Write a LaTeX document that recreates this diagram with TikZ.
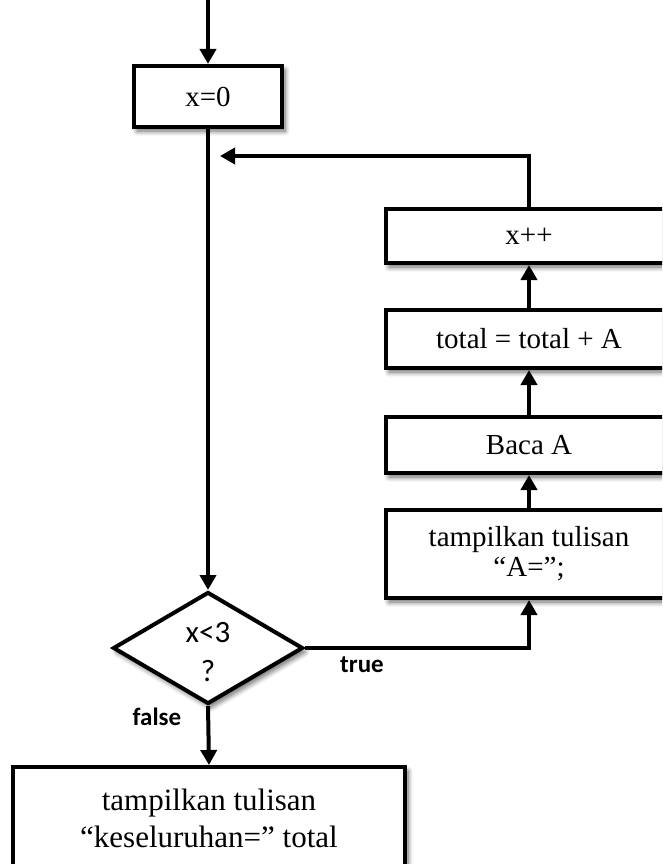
\documentclass[tikz,border=0pt]{standalone}
\usepackage{fontspec}
\setmainfont{Liberation Serif}
\newfontfamily\labelfont{Carlito}
\usetikzlibrary{arrows.meta,shapes.geometric,shadows.blur}

\tikzset{
  shade/.style={blur shadow={shadow xshift=3pt,shadow yshift=-4pt,
      shadow blur radius=5pt,shadow blur steps=8,shadow opacity=60}},
  procbox/.style={draw,line width=4pt,fill=white,shade,inner sep=0pt,
      align=center,font=\fontsize{29}{30}\selectfont},
  decide/.style={draw,shape=diamond,line width=4pt,fill=white,shade,
      inner sep=0pt,minimum width=190pt,minimum height=112pt},
  flow/.style={line width=4pt,-{Triangle[length=15pt,width=16pt]}},
  branch/.style={font=\labelfont\bfseries\fontsize{25}{28}\selectfont}
}

\begin{document}
\begin{tikzpicture}[x=1pt,y=-1pt]
  \useasboundingbox (0,0) rectangle (662,864);
  \clip (0,0) rectangle (662,864);

  % entry point
  \coordinate (start) at (208,-5);

  % initialisation
  \node[procbox,minimum width=148pt,minimum height=61pt] (init) at (208,96.5) {x=0};

  % loop condition
  \node[decide] (cond) at (208,648) {};
  \node[font=\labelfont\fontsize{31}{39}\selectfont,align=center] (condtext) at (208,652) {x<3\\?};

  % loop body (right column)
  \node[procbox,minimum width=286pt,minimum height=88pt] (show) at (529,554) {tampilkan tulisan\\“A=”;};
  \node[procbox,minimum width=286pt,minimum height=56pt] (read) at (529,445) {Baca A};
  \node[procbox,minimum width=286pt,minimum height=58pt] (sum) at (529,339) {total = total + A};
  \node[procbox,minimum width=286pt,minimum height=54pt] (incr) at (529,236) {x++};

  % loop return point
  \coordinate (back) at (220,156);

  % final output
  \node[procbox,minimum width=392pt,minimum height=140pt] (result) at (209,837) {};
  \node[font=\fontsize{31}{37}\selectfont,align=center] (resulttext) at (209,818)
        {tampilkan tulisan\\“keseluruhan=” total};

  % connectors
  \draw[flow] (start) -- (init.north);
  \draw[flow] (init.south) -- (cond.north);
  \draw[flow] (cond.south) -- (result.north);
  \draw[flow] (cond.east) -| (show.south);
  \draw[flow] (show.north) -- (read.south);
  \draw[flow] (read.north) -- (sum.south);
  \draw[flow] (sum.north) -- (incr.south);
  \draw[flow] (incr.north) |- (back);

  % branch labels
  \node[branch] (truelbl) at (362,665) {true};
  \node[branch] (falselbl) at (157,717) {false};
\end{tikzpicture}
\end{document}
